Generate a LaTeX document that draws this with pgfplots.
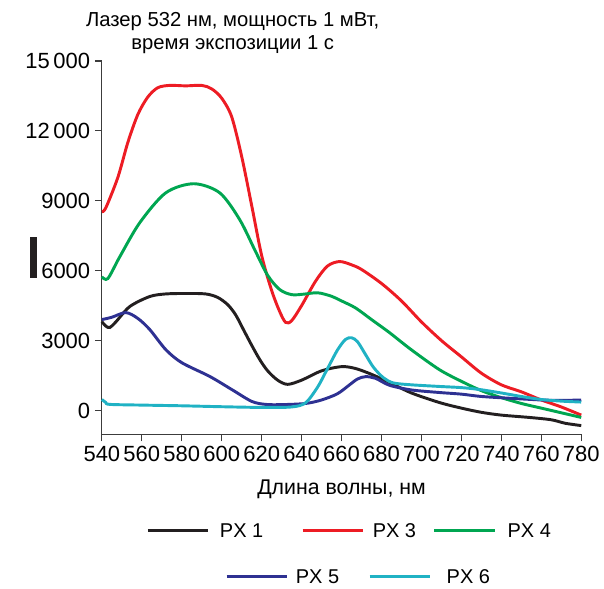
\documentclass[border=0pt]{standalone}
\usepackage{fontspec}
\setmainfont{Liberation Sans}
\usepackage{pgfplots}
\pgfplotsset{compat=1.18}

\definecolor{cBlack}{RGB}{35,31,32}
\definecolor{cRed}{RGB}{237,28,36}
\definecolor{cGreen}{RGB}{0,166,81}
\definecolor{cBlue}{RGB}{46,49,146}
\definecolor{cCyan}{RGB}{32,178,196}
\definecolor{cAxis}{RGB}{60,60,60}

\newcommand{\tickfont}{\fontsize{16.5}{19}\selectfont}
\newcommand{\labelfont}{\fontsize{16}{19}\selectfont}
\newcommand{\titlefont}{\fontsize{15.2}{17.5}\selectfont}
\newcommand{\legfont}{\fontsize{15}{18}\selectfont}

\begin{document}
\begin{tikzpicture}
\begin{axis}[
  name=ax,
  at={(0,0)}, anchor=south west,
  scale only axis,
  width=360pt, height=280.5pt,
  xmin=540, xmax=780,
  ymin=-1029, ymax=15000,
  axis x line*=bottom, axis y line*=left,
  axis line style={cAxis, line width=0.9pt},
  tick align=outside,
  major tick length=5.25pt,
  tick style={cAxis, line width=0.9pt},
  xtick={540,560,...,780},
  ytick={0,3000,6000,9000,12000,15000},
  yticklabels={0,3000,6000,9000,12\,000,15\,000},
  scaled y ticks=false,
  /pgf/number format/assume math mode=true,
  /pgf/number format/1000 sep={},
  ticklabel style={font=\tickfont},
  xlabel={Длина волны, нм},
  xlabel style={font=\labelfont, yshift=-7pt},
  clip=false,
  every axis plot/.append style={line width=2.2pt, smooth, tension=0.5, no markers},
]
% PX 1
\addplot[cBlack] coordinates {
(540,3810) (542,3620) (544,3560) (547,3800) (554,4460) (564,4890) (572,5000)
(582,5020) (592,5000) (598,4850) (603,4540) (607,4100) (611,3450) (615,2800)
(619,2190) (623,1700) (628,1300) (633,1120) (640,1300) (650,1700) (660,1880)
(667,1800) (675,1550) (684,1200) (695,750) (709,340) (720,100) (730,-80)
(740,-200) (754,-300) (765,-400) (772,-550) (780,-650)};
% PX 3
\addplot[cRed] coordinates {
(540,8530) (542,8700) (548,10000) (553,11500) (558,12700) (563,13450) (568,13850)
(574,13950) (582,13930) (590,13950) (595,13800) (600,13400) (605,12600) (610,10900)
(615,8800) (620,6650) (625,5150) (629,4250) (632,3780) (635,3850) (640,4500)
(647,5550) (653,6200) (659,6390) (665,6250) (670,6050) (680,5450) (690,4700)
(700,3800) (710,3000) (720,2300) (730,1600) (740,1100) (750,800) (760,450)
(770,150) (780,-200)};
% PX 4
\addplot[cGreen] coordinates {
(540,5740) (543,5660) (549,6600) (559,8060) (572,9340) (586,9730) (599,9340)
(609,8190) (617,6810) (623,5800) (629,5190) (635,4970) (641,4990) (648,5050)
(655,4900) (660,4700) (667,4400) (675,3900) (684,3340) (695,2600) (709,1750)
(720,1250) (730,850) (740,550) (750,300) (760,100) (770,-100) (780,-300)};
% PX 5
\addplot[cBlue] coordinates {
(540,3900) (545,4000) (552,4200) (558,3950) (564,3470) (572,2610) (580,2050)
(594,1460) (605,900) (615,390) (622,260) (630,250) (642,300) (650,450)
(658,720) (664,1100) (668,1350) (672,1450) (677,1380) (684,1080) (695,880)
(709,770) (720,700) (730,600) (745,520) (760,450) (770,430) (780,450)};
% PX 6
\addplot[cCyan] coordinates {
(540,470) (542,340) (544,260) (560,230) (580,200) (600,160) (620,130)
(635,150) (642,330) (648,1000) (653,1800) (658,2600) (662,3050) (665,3120)
(668,2950) (672,2400) (676,1850) (681,1400) (686,1180) (695,1100) (709,1030)
(720,980) (729,900) (740,750) (750,600) (760,470) (770,400) (780,360)};
\end{axis}

\begin{scope}[shift={(ax.south west)}]
  \useasboundingbox (-76.5pt,-115.5pt) rectangle (376.5pt,326.25pt);
  % title
  \node[anchor=north, align=center, inner sep=0pt, font=\titlefont] at (98.25pt,317.25pt)
    {Лазер 532 нм, мощность 1 мВт,\\время экспозиции 1 с};
  % bar mark beside the y axis
  \fill[cBlack] (-54pt,117.75pt) rectangle (-48.75pt,148.5pt);
  % legend
  \begin{scope}[font=\legfont]
  \draw[cBlack, line width=2.2pt] (34.5pt,-72pt) -- (79.5pt,-72pt);
  \node[anchor=west, inner sep=0pt] at (88.5pt,-72pt) {PX 1};
  \draw[cRed, line width=2.2pt] (150.75pt,-72pt) -- (195.75pt,-72pt);
  \node[anchor=west, inner sep=0pt] at (203.25pt,-72pt) {PX 3};
  \draw[cGreen, line width=2.2pt] (249.75pt,-72pt) -- (295.5pt,-72pt);
  \node[anchor=west, inner sep=0pt] at (304.5pt,-72pt) {PX 4};
  \draw[cBlue, line width=2.2pt] (93.75pt,-106.5pt) -- (138.75pt,-106.5pt);
  \node[anchor=west, inner sep=0pt] at (145.5pt,-106.5pt) {PX 5};
  \draw[cCyan, line width=2.2pt] (201pt,-106.5pt) -- (246.75pt,-106.5pt);
  \node[anchor=west, inner sep=0pt] at (258.75pt,-106.5pt) {PX 6};
  \end{scope}
\end{scope}
\end{tikzpicture}
\end{document}
